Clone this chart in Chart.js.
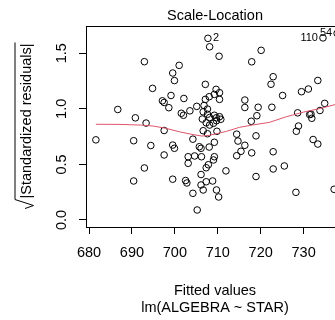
<!DOCTYPE html>
<html>
<head>
<meta charset="utf-8">
<script src="https://cdn.jsdelivr.net/npm/chart.js@4.4.1/dist/chart.umd.min.js"></script>
<style>
  body { margin: 0; background: #fff; overflow: hidden; }
</style>
</head>
<body>
<canvas id="grafico" width="350" height="320"></canvas>
<script>
// Dados (Scale-Location)
const valoresAjustados = [
  681.6, 686.7, 690.8, 690.4, 690.4, 692.9, 693.3, 694.4, 692.9, 694.8,
  697.1, 697.5, 697.5, 697.5, 698.6, 699.1, 699.5, 699.9, 699.5, 699.9,
  699.5, 701.0, 702.1, 701.5, 702.0, 703.5, 705.1, 704.2, 703.1, 704.6,
  703.1, 702.5, 702.8, 704.2, 705.2, 705.7, 706.1, 706.2, 706.6, 707.6,
  708.0, 709.2, 709.8, 706.1, 707.3, 707.8, 709.0, 709.2, 707.3, 706.1,
  706.6, 708.8, 709.7, 710.2, 711.9, 706.4, 707.3, 708.1, 709.0, 709.7,
  710.7, 710.4, 706.6, 707.6, 706.8, 707.6, 708.1, 709.2, 709.7, 707.1,
  709.6, 710.4, 709.2, 708.0, 707.1, 710.4, 707.7, 708.1, 710.3, 714.4,
  714.7, 714.4, 715.4, 716.3, 717.9, 718.9, 716.3, 716.3, 717.9, 720.1,
  719.4, 719.1, 717.8, 718.9, 722.6, 722.9, 722.4, 725.1, 722.9, 722.9,
  725.5, 728.2, 728.6, 728.8, 728.3, 729.5, 731.1, 733.3, 734.5, 737.8,
  734.9, 733.8, 731.7, 731.9, 732.2, 733.3, 737.1, 731.4
];
const raizResiduos = [
  0.721, 0.994, 0.919, 0.713, 0.351, 1.424, 0.872, 0.670, 0.468, 1.184,
  1.072, 1.057, 0.805, 0.585, 1.010, 1.120, 1.322, 1.254, 0.674, 0.645,
  0.367, 1.391, 1.093, 0.960, 0.942, 0.982, 1.022, 0.727, 0.569, 0.576,
  0.510, 0.355, 0.333, 0.240, 0.090, 0.659, 0.645, 0.569, 0.803, 0.776,
  0.656, 0.699, 0.798, 0.409, 0.470, 0.497, 0.540, 0.569, 0.344, 0.315,
  0.270, 0.351, 0.270, 0.207, 0.442, 0.908, 0.874, 0.854, 0.870, 0.893,
  0.906, 0.929, 0.973, 0.998, 1.030, 0.951, 0.922, 0.942, 0.920, 1.220,
  1.175, 1.145, 1.130, 1.109, 1.085, 1.085, 1.634, 1.558, 1.473, 0.772,
  0.710, 0.578, 0.618, 0.672, 0.604, 0.757, 1.079, 1.012, 1.423, 1.526,
  1.014, 0.938, 0.888, 0.391, 1.014, 1.289, 1.221, 1.120, 0.614, 0.459,
  0.486, 0.249, 0.964, 0.845, 0.798, 1.154, 1.178, 1.255, 1.638, 1.679,
  1.049, 0.985, 0.953, 0.915, 0.724, 0.683, 0.276, 0.948
];

// curva suavizada (vermelha)
const curvaX = [681.6, 687, 692, 695, 698, 701, 704, 706.3, 708, 710, 712, 715, 718, 722, 726, 730, 734, 737.8];
const curvaY = [0.861, 0.860, 0.854, 0.845, 0.824, 0.794, 0.770, 0.755, 0.761, 0.779, 0.797, 0.833, 0.854, 0.878, 0.929, 0.971, 1.004, 1.043];

// rótulos dos 3 maiores residuos, em ordem decrescente
const rotulosId = ['54', '110', '2'];

const limitesX = [679.3, 739.4];
const limitesY = [-0.063, 1.745];

const fonte = '"Liberation Sans", Arial, sans-serif';
const tamFonte = 14.5;

const pontos = valoresAjustados.map(function(x, i) { return { x: x, y: raizResiduos[i] }; });
const curva = curvaX.map(function(x, i) { return { x: x, y: curvaY[i] }; });

// plugin para desenhar caixa, titulo, eixo y e rotulos
const extras = {
  id: 'extras',
  afterDraw: function(chart) {
    const c = chart.ctx;
    const a = chart.chartArea;
    const sx = chart.scales.x;
    const sy = chart.scales.y;
    c.save();
    c.strokeStyle = '#000';
    c.lineWidth = 1;
    c.strokeRect(Math.round(a.left) + 0.5, Math.round(a.top) + 0.5, Math.round(a.right - a.left), Math.round(a.bottom - a.top));

    c.fillStyle = '#000';
    c.font = tamFonte + 'px ' + fonte;
    c.textAlign = 'center';
    c.textBaseline = 'alphabetic';
    c.fillText('Scale-Location', (a.left + a.right) / 2, 19.8);

    // ticks do eixo y (rotacionados)
    sy.ticks.forEach(function(t) {
      const py = sy.getPixelForValue(t.value);
      c.save();
      c.translate(66, py);
      c.rotate(-Math.PI / 2);
      c.textAlign = 'center';
      c.fillText(t.value.toFixed(1), 0, 0);
      c.restore();
    });

    // titulo do eixo y com raiz
    const texto = '|Standardized residuals|';
    const larg = c.measureText(texto).width;
    const raiz = 11;
    const total = larg + raiz;
    const meio = (a.top + a.bottom) / 2;
    c.save();
    c.translate(31, meio);
    c.rotate(-Math.PI / 2);
    const ini = -total / 2;
    c.textAlign = 'left';
    c.fillText(texto, ini + raiz, 0);
    c.beginPath();
    c.moveTo(ini + 1, -6);
    c.lineTo(ini + 4, 2.5);
    c.lineTo(ini + raiz - 1, -16);
    c.lineTo(ini + total + 1, -16);
    c.lineWidth = 1;
    c.stroke();
    c.restore();

    // rotulos dos pontos extremos
    const ordem = raizResiduos.map(function(v, i) { return i; })
      .sort(function(p, q) { return raizResiduos[q] - raizResiduos[p]; });
    const meioX = (Math.min.apply(null, valoresAjustados) + Math.max.apply(null, valoresAjustados)) / 2;
    c.font = '11px ' + fonte;
    c.textBaseline = 'middle';
    rotulosId.forEach(function(r, k) {
      const i = ordem[k];
      const px = sx.getPixelForValue(valoresAjustados[i]);
      const py = sy.getPixelForValue(raizResiduos[i]);
      if (valoresAjustados[i] > meioX) {
        c.textAlign = 'right';
        c.fillText(r, px - 5, py);
      } else {
        c.textAlign = 'left';
        c.fillText(r, px + 5, py);
      }
    });
    c.restore();
  }
};

const ctx = document.getElementById('grafico').getContext('2d');

new Chart(ctx, {
  type: 'scatter',
  data: {
    datasets: [{
      type: 'line',
      data: curva,
      borderColor: '#DF536B',
      borderWidth: 1,
      pointRadius: 0,
      tension: 0,
      fill: false
    }, {
      data: pontos,
      pointRadius: 3.3,
      pointBorderWidth: 1,
      pointBorderColor: '#000',
      pointBackgroundColor: 'rgba(0,0,0,0)'
    }]
  },
  options: {
    responsive: false,
    animation: false,
    layout: { padding: { top: 26, right: 6, left: 0, bottom: 0 } },
    plugins: {
      legend: { display: false },
      tooltip: { enabled: false }
    },
    scales: {
      x: {
        type: 'linear',
        min: limitesX[0],
        max: limitesX[1],
        afterFit: function(s) { s.height = 93; },
        grid: { drawOnChartArea: false, drawTicks: true, tickLength: 7, color: '#000' },
        border: { display: true, color: '#000' },
        ticks: {
          stepSize: 10,
          includeBounds: false,
          padding: 10,
          color: '#000',
          maxRotation: 0,
          font: { family: fonte, size: tamFonte },
          callback: function(v) { return String(v); }
        },
        title: {
          display: true,
          text: ['Fitted values', 'lm(ALGEBRA ~ STAR)'],
          color: '#000',
          font: { family: fonte, size: tamFonte },
          padding: { top: 0, bottom: 3 }
        }
      },
      y: {
        type: 'linear',
        min: limitesY[0],
        max: limitesY[1],
        afterFit: function(s) { s.width = 86; },
        grid: { drawOnChartArea: false, drawTicks: true, tickLength: 7, color: '#000' },
        border: { display: true, color: '#000' },
        ticks: { stepSize: 0.5, includeBounds: false, display: false }
      }
    }
  },
  plugins: [extras]
});
</script>
</body>
</html>
